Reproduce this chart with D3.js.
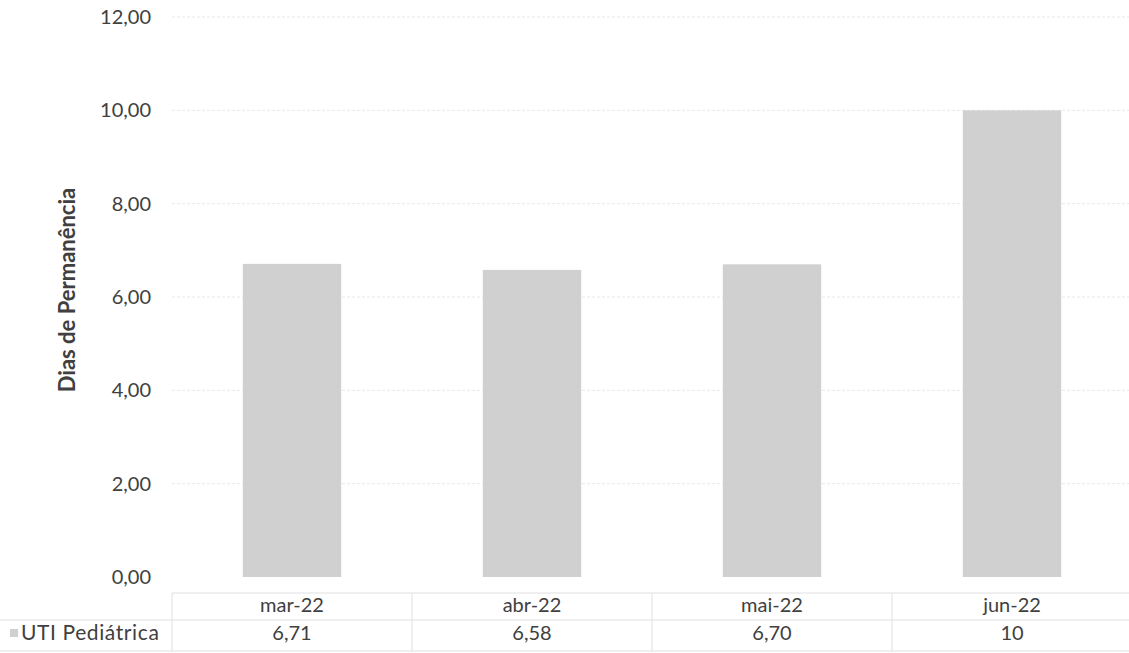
<!DOCTYPE html>
<html><head><meta charset="utf-8">
<script src="https://cdn.jsdelivr.net/npm/d3@7"></script>
<style>body{margin:0;background:#fff}svg text{font-family:Lato,"Open Sans",sans-serif;fill:#404040}</style>
</head><body><svg id="c" width="1129" height="653"></svg>
<script>
const categories = ["mar-22","abr-22","mai-22","jun-22"];
const values = [6.71, 6.58, 6.70, 10];
const valueLabels = ["6,71","6,58","6,70","10"];
const yTicks = [0,2,4,6,8,10,12];
const seriesName = "UTI Pediátrica";
const axisTitle = "Dias de Permanência";

const svg = d3.select("#c");
const x = d3.scaleBand().domain(categories).range([172,1132]).paddingInner(0.59).paddingOuter(0.295);
const y = d3.scaleLinear().domain([0,12]).range([577,17]);
const fmt = d => d.toFixed(2).replace(".",",");

// gridlines
svg.append("g").selectAll("line").data(yTicks.filter(t=>t>0)).join("line")
  .attr("x1",172).attr("x2",1129).attr("y1",d=>y(d)).attr("y2",d=>y(d))
  .attr("stroke","#e8e8e8").attr("stroke-width",1).attr("stroke-dasharray","3,2");

// y axis
const ya = svg.append("g").attr("transform","translate(151,0)")
  .call(d3.axisLeft(y).tickValues(yTicks).tickFormat(fmt).tickSize(0).tickPadding(0));
ya.select(".domain").remove();
ya.selectAll("text").attr("font-size",20).attr("fill","#404040").style("font-family","Lato");

svg.append("text").attr("transform","translate(75,290) rotate(-90)")
  .attr("text-anchor","middle").attr("font-size",22).attr("font-weight","bold").text(axisTitle);

// bars
svg.append("g").selectAll("rect").data(values).join("rect")
  .attr("x",(d,i)=>x(categories[i])).attr("width",x.bandwidth())
  .attr("y",d=>y(d)).attr("height",d=>y(0)-y(d)).attr("fill","#d0d0d0");

// data table
const tg = svg.append("g").attr("stroke","#e0e0e0").attr("stroke-width",1);
tg.append("line").attr("x1",172).attr("x2",1129).attr("y1",593).attr("y2",593);
tg.append("line").attr("x1",0).attr("x2",1129).attr("y1",620).attr("y2",620);
tg.append("line").attr("x1",0).attr("x2",1129).attr("y1",651).attr("y2",651);
const edges = categories.map(c=>x(c)-x.step()*x.paddingInner()/2);
tg.selectAll("line.v").data(edges).join("line").attr("class","v")
  .attr("x1",d=>d).attr("x2",d=>d).attr("y1",593).attr("y2",651);

svg.append("g").selectAll("text").data(categories).join("text")
  .attr("x",d=>x(d)+x.bandwidth()/2).attr("y",612).attr("text-anchor","middle")
  .attr("font-size",20).text(d=>d);
svg.append("g").selectAll("text").data(valueLabels).join("text")
  .attr("x",(d,i)=>x(categories[i])+x.bandwidth()/2).attr("y",640).attr("text-anchor","middle")
  .attr("font-size",20).text(d=>d);

svg.append("rect").attr("x",10).attr("y",629).attr("width",8).attr("height",8).attr("fill","#d0d0d0");
svg.append("text").attr("x",21).attr("y",640).attr("font-size",21).attr("letter-spacing",0.6).text(seriesName);
</script></body></html>
